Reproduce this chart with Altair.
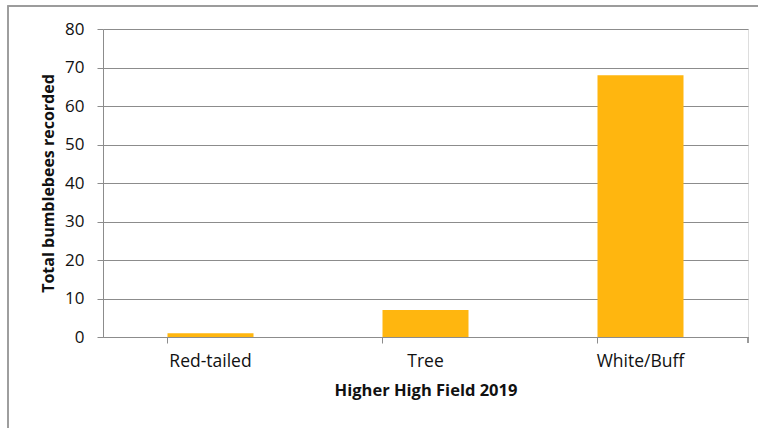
import altair as alt
import pandas as pd

# Bumblebee survey totals by group
groups = ["Red-tailed", "Tree", "White/Buff"]
totals = [1, 7, 68]
y_ticks = [0, 10, 20, 30, 40, 50, 60, 70, 80]

df = pd.DataFrame({"group": groups, "total": totals})

W, H = 645, 308
GRID = "#8c8c8c"
FONT = "Open Sans"

bars = alt.Chart(df).mark_bar(color="#FFB60F").encode(
    x=alt.X(
        "group:N",
        sort=groups,
        scale=alt.Scale(paddingInner=0.6, paddingOuter=0.3),
        axis=alt.Axis(
            title="Higher High Field 2019",
            labelAngle=0,
            labelFontSize=17.5,
            labelColor="#111111",
            labelPadding=9,
            titleFontSize=16.5,
            titleFontWeight="bold",
            titleColor="#111111",
            titlePadding=13,
            domainColor=GRID,
            tickColor=GRID,
            tickSize=6,
            bandPosition=0,
            grid=False,
        ),
    ),
    y=alt.Y(
        "total:Q",
        scale=alt.Scale(domain=[0, 80], nice=False),
        axis=alt.Axis(
            title="Total bumblebees recorded",
            values=y_ticks,
            labelFontSize=17,
            labelColor="#111111",
            labelPadding=13,
            titleFontSize=16,
            titleFontWeight="bold",
            titleColor="#111111",
            titlePadding=8,
            domainColor=GRID,
            tickColor=GRID,
            tickSize=6,
            gridColor=GRID,
            grid=True,
        ),
    ),
)

# closing tick at the right end of the category axis
end_tick = alt.Chart(df).mark_rule(color=GRID).encode(
    x=alt.value(W), y=alt.value(H), y2=alt.value(H + 6)
)

# outer frame of the chart
frame = alt.Chart(df).mark_rect(fill=None, stroke="#9a9a9a", strokeWidth=1.3).encode(
    x=alt.value(-95), x2=alt.value(W + 40), y=alt.value(-23), y2=alt.value(H + 120)
)

chart = (
    alt.layer(frame, bars, end_tick)
    .properties(
        width=W,
        height=H,
        padding={"left": 103, "top": 29, "right": 10, "bottom": 91},
        autosize=alt.AutoSizeParams(type="none"),
        background="white",
    )
    .configure_view(stroke=None)
    .configure(font=FONT)
)

chart.save("out.html", embed_options={"renderer": "svg", "actions": False})
